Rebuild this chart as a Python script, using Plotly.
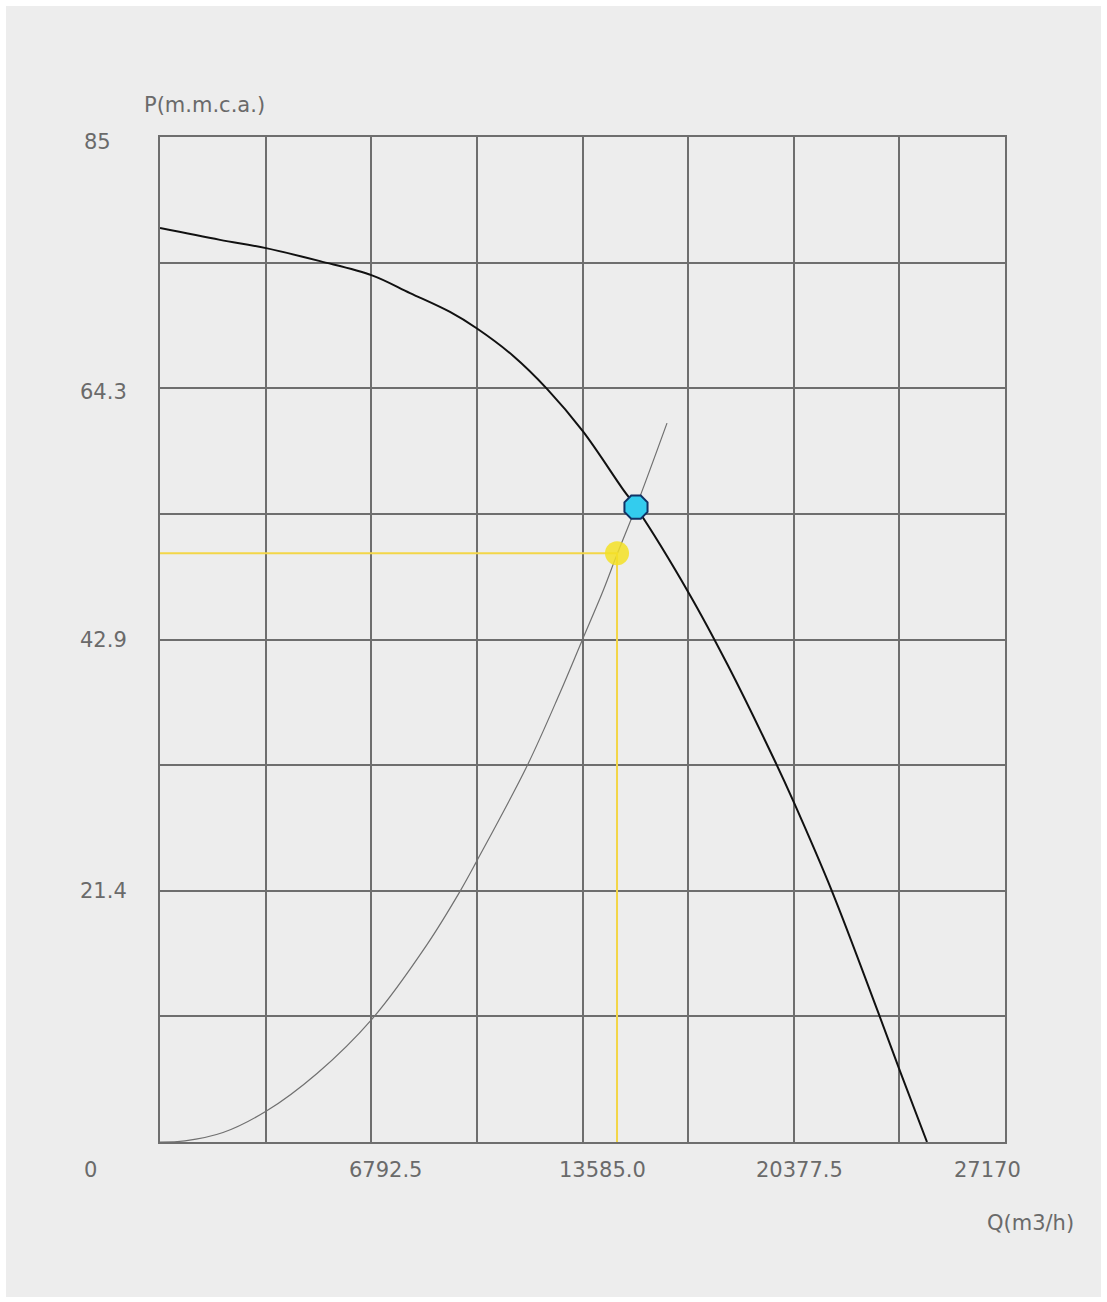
import plotly.graph_objects as go

# ---- data ----
pump_q = [0, 1929, 3408, 5145, 6817, 8039, 9325, 10193, 11350, 12444, 13601,
          14887, 15305, 17010, 18263, 19775, 20386, 21608, 23087, 23794, 24662]
pump_p = [77.3, 76.3, 75.6, 74.5, 73.3, 71.8, 70.2, 68.8, 66.5, 63.7, 60.1,
          55.2, 53.7, 46.4, 40.3, 32.2, 28.7, 21.2, 11.0, 6.0, 0.0]

sys_q = [0, 804, 2026, 3408, 5048, 6817, 8585, 9646, 10193, 11801, 12862, 13569,
         14244, 14695, 15305, 16302]
sys_p = [0.0, 0.1, 0.8, 2.6, 5.8, 10.4, 16.7, 21.2, 23.8, 31.8, 38.0, 42.4,
         46.6, 49.7, 53.7, 60.8]

oper_q = [15305]
oper_p = [53.7]
req_q = [14695]
req_p = [49.8]

x_max = 27170
y_max = 85
x_tick_labels = ["0", "6792.5", "13585.0", "20377.5", "27170"]
y_tick_labels = ["85", "64.3", "42.9", "21.4"]
y_title = "P(m.m.c.a.)"
x_title = "Q(m3/h)"

# ---- layout geometry (pixels) ----
W, H = 1107, 1302
L, R, T, B = 160, 1005, 137, 1142
x_label_px = [90, 385, 602, 799, 987]
x_label_py = 1170
y_label_px = [97, 103, 103, 103]
y_label_py = [142, 392, 640, 891]

def px2paper(px):
    return (px - L) / (R - L)

def py2paper(py):
    return (B - py) / (B - T)

BG = "#EDEDED"
GRID = "#6E6E6E"
TXT = "#6A6A6A"
YEL = "#F3D648"

fig = go.Figure()

fig.add_trace(go.Scatter(x=sys_q, y=sys_p, mode="lines",
                         line=dict(color="#707070", width=1.2, shape="spline", smoothing=1.0),
                         hoverinfo="skip", showlegend=False))
fig.add_trace(go.Scatter(x=pump_q, y=pump_p, mode="lines",
                         line=dict(color="#111111", width=2, shape="spline", smoothing=1.0),
                         hoverinfo="skip", showlegend=False))
fig.add_trace(go.Scatter(x=[0, req_q[0], req_q[0]], y=[req_p[0], req_p[0], 0],
                         mode="lines", line=dict(color=YEL, width=2),
                         hoverinfo="skip", showlegend=False))
fig.add_trace(go.Scatter(x=req_q, y=req_p, mode="markers",
                         marker=dict(size=24, color="#F3E024", opacity=0.85,
                                     line=dict(width=0)),
                         showlegend=False))
fig.add_trace(go.Scatter(x=oper_q, y=oper_p, mode="markers",
                         marker=dict(size=25, color="#33CCEE", symbol="octagon",
                                     line=dict(color="#113366", width=2)),
                         showlegend=False))

font = dict(family="DejaVu Sans", size=21, color=TXT)
annotations = []
for lbl, px in zip(x_tick_labels, x_label_px):
    annotations.append(dict(text=lbl, x=px2paper(px), y=py2paper(x_label_py),
                            xref="paper", yref="paper", showarrow=False,
                            xanchor="center", yanchor="middle", font=font))
for lbl, px, py in zip(y_tick_labels, y_label_px, y_label_py):
    annotations.append(dict(text=lbl, x=px2paper(px), y=py2paper(py),
                            xref="paper", yref="paper", showarrow=False,
                            xanchor="center", yanchor="middle", font=font))
annotations.append(dict(text=y_title, x=px2paper(204), y=py2paper(105),
                        xref="paper", yref="paper", showarrow=False,
                        xanchor="center", yanchor="middle", font=font))
annotations.append(dict(text=x_title, x=px2paper(1030), y=py2paper(1223),
                        xref="paper", yref="paper", showarrow=False,
                        xanchor="center", yanchor="middle", font=font))

shapes = [dict(type="rect", xref="paper", yref="paper", layer="below",
               x0=px2paper(6), x1=px2paper(1101), y0=py2paper(1297), y1=py2paper(6),
               fillcolor=BG, line=dict(width=0))]

fig.update_layout(
    width=W, height=H,
    margin=dict(l=L, r=W - R, t=T, b=H - B),
    paper_bgcolor="white", plot_bgcolor=BG,
    annotations=annotations, shapes=shapes,
    xaxis=dict(range=[0, x_max], dtick=x_max / 8, tick0=0, showgrid=True,
               gridcolor=GRID, gridwidth=1.5, zeroline=False, showticklabels=False,
               showline=True, linecolor=GRID, linewidth=1.5, mirror=True, ticks="",
               fixedrange=True),
    yaxis=dict(range=[0, y_max], dtick=y_max / 8, tick0=0, showgrid=True,
               gridcolor=GRID, gridwidth=1.5, zeroline=False, showticklabels=False,
               showline=True, linecolor=GRID, linewidth=1.5, mirror=True, ticks="",
               fixedrange=True),
)

fig.write_html("out.html")
